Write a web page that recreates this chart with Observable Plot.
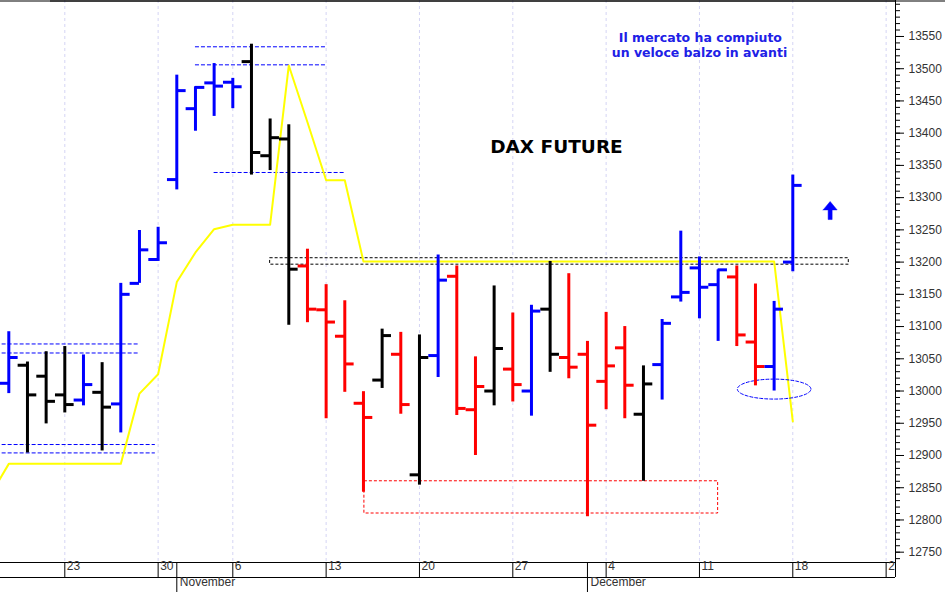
<!DOCTYPE html>
<html><head><meta charset="utf-8">
<script src="https://cdn.jsdelivr.net/npm/d3@7"></script>
<script src="https://cdn.jsdelivr.net/npm/@observablehq/plot@0.6"></script>
<style>body{margin:0;background:#fff}svg{display:block}</style>
</head><body>
<script>
// ---- data (trading-day index i = 0 is 2017-10-18) ----
const dates = ["2017-10-18","2017-10-19","2017-10-20","2017-10-23","2017-10-24","2017-10-25","2017-10-26","2017-10-27","2017-10-30",
  "2017-11-01","2017-11-02","2017-11-03","2017-11-06","2017-11-07","2017-11-08","2017-11-09","2017-11-10",
  "2017-11-13","2017-11-14","2017-11-15","2017-11-16","2017-11-17","2017-11-20","2017-11-21","2017-11-22","2017-11-23","2017-11-24",
  "2017-11-27","2017-11-28","2017-11-29","2017-11-30","2017-12-01","2017-12-04","2017-12-05","2017-12-06","2017-12-07","2017-12-08",
  "2017-12-11","2017-12-12","2017-12-13","2017-12-14","2017-12-15","2017-12-18"];
const open  = [13012,13040,13023,12994,12986,12998,12980,13167,13204,13328,13438,13478,13479,13511,13365,13391,13194,13126,13085,12981,13017,13057,12870,13055,13178,12971,13000,13034,13000,13127,13052,13057,13015,13067,12964,13041,13146,13191,13165,13177,13076,13038,13200];
const high  = [13092,13045,13061,13069,13056,13044,13167,13249,13254,13490,13472,13508,13485,13538,13422,13413,13220,13165,13140,12999,13096,13091,13087,13211,13194,13053,13163,13121,13133,13201,13182,13077,13122,13100,13039,13111,13248,13208,13188,13194,13166,13139,13335];
const low   = [12996,12904,12949,12966,12977,12907,12935,13167,13201,13312,13403,13426,13438,13335,13342,13102,13106,12957,12998,12843,13004,12964,12854,13021,12962,12900,12977,12983,12961,13029,13019,12805,12971,12957,12860,12986,13138,13112,13077,13069,13008,13000,13185];
const close = [13052,12994,12984,12979,13010,12975,13150,13219,13230,13466,13471,13473,13472,13370,13393,13189,13127,13107,13042,12959,13086,12979,13052,13172,12973,13007,13066,13010,13124,13057,13037,12947,13039,13009,13011,13105,13153,13161,13188,13087,13038,13127,13319];
const barColor = ["blue","black","black","black","blue","black","blue","blue","blue","blue","blue","blue","blue","black","black","black","red",
  "red","red","red","black","red","black","blue","red","red","black","red","blue","black","red","red","red","red","black","blue","blue","blue","blue","red","red","blue","blue"];
// yellow line, day index -1 .. 42
const trendStart = -1;
const trend = [12838,12887,12887,12887,12887,12887,12887,12887,12996,13026,13169,13215,13251,13258,13258,13258,13505,13417,13327,13327,
  13201,13201,13201,13201,13201,13201,13201,13201,13201,13201,13201,13201,13201,13201,13201,13201,13201,13201,13201,13201,13201,13201,13201,12953];

// axis ticks
const weekTickIdx = [3,8,12,17,22,27,32,37,42,47];
const weekTickLabels = ["23","30","6","13","20","27","4","11","18","2"];
const monthTickIdx = [9,31];
const monthTickLabels = ["November","December"];
const yTicks = [12750,12800,12850,12900,12950,13000,13050,13100,13150,13200,13250,13300,13350,13400,13450,13500,13550];
const yTickLabels = yTicks.map(String);
const yMinorTicks = d3.range(12740, 13601, 10);

// annotations (data values)
const levelY     = [13073,13059,12917,12904,13534,13506,13339];
const levelStart = [-1,-1,-1,-1,10,10,11];
const levelEnd   = [7,7,7.85,7.85,17,17,18];
const boxBlack = {x1: 14, x2: 45, y1: 13196, y2: 13206};
const boxRed   = {x1: 19.05, x2: 38, y1: 12810, y2: 12860};
const ellipseSpec = {cx: 41, cy: 13003, rx: 1.97, ry: 15.5};
const arrowSpec = {x: 44, tip: 13294, base: 13281, tail: 13266};
const titleText = "DAX FUTURE";
const titlePos = {x: 29.34, y: 13378};
const noteLines = ["Il mercato ha compiuto", "un veloce balzo in avanti"];
const notePos = [{x: 37.05, y: 13548}, {x: 37.0, y: 13525}];

// ---- build ----
const colorHex = {blue: "#0000ff", black: "#000000", red: "#ff0000"};
const bars = dates.map((d, k) => ({i: k, o: open[k], h: high[k], l: low[k], c: close[k], col: colorHex[barColor[k]]}));
const trendData = trend.map((v, k) => ({i: trendStart + k, v}));
const levels = levelY.map((y, k) => ({y, x1: levelStart[k], x2: levelEnd[k]}));
const ellipsePts = d3.range(0, 361, 4).map(a => ({
  x: ellipseSpec.cx + ellipseSpec.rx * Math.cos(a * Math.PI / 180),
  y: ellipseSpec.cy + ellipseSpec.ry * Math.sin(a * Math.PI / 180)}));
const hh = 0.375, sh = 0.107;
const arrowPts = [
  [arrowSpec.x - hh, arrowSpec.base],[arrowSpec.x, arrowSpec.tip],[arrowSpec.x + hh, arrowSpec.base],
  [arrowSpec.x + sh, arrowSpec.base],[arrowSpec.x + sh, arrowSpec.tail],[arrowSpec.x - sh, arrowSpec.tail],
  [arrowSpec.x - sh, arrowSpec.base],[arrowSpec.x - hh, arrowSpec.base]].map(([x, y]) => ({x, y}));
const weekLab = weekTickIdx.map((i, k) => ({i, t: weekTickLabels[k]}));
const monthLab = monthTickIdx.map((i, k) => ({i, t: monthTickLabels[k]}));
const yLabelMap = new Map(yTicks.map((v, k) => [v, yTickLabels[k]]));

const xDomain = [-0.4446, 47.502];
const yDomain = [12734, 13605.8];
const tickLen = 0.5;

const chart = Plot.plot({
  width: 945, height: 592,
  marginLeft: 0, marginRight: 50, marginTop: 0, marginBottom: 30,
  x: {domain: xDomain, axis: null},
  y: {domain: yDomain, axis: null, label: null},
  color: {type: "identity"},
  style: {fontFamily: "'Liberation Sans', Arial, sans-serif", fontSize: "12px", background: "#fff", overflow: "visible"},
  marks: [
    Plot.ruleX(weekTickIdx, {stroke: "#d4d4f4", strokeDasharray: "3,3", strokeWidth: 1}),
    Plot.ruleY(levels, {y: "y", x1: "x1", x2: "x2", stroke: "#0000ff", strokeDasharray: "4,2", clip: true}),
    Plot.rect([boxBlack], {x1: "x1", x2: "x2", y1: "y1", y2: "y2", fill: "none", stroke: "#000", strokeDasharray: "3,2"}),
    Plot.rect([boxRed], {x1: "x1", x2: "x2", y1: "y1", y2: "y2", fill: "none", stroke: "#ff0000", strokeDasharray: "3,2"}),
    Plot.line(trendData, {x: "i", y: "v", stroke: "#ffff00", strokeWidth: 2, clip: true}),
    Plot.line(ellipsePts, {x: "x", y: "y", stroke: "#0000ff", strokeDasharray: "3,2", strokeWidth: 1}),
    Plot.ruleX(bars, {x: "i", y1: "l", y2: "h", stroke: "col", strokeWidth: 3}),
    Plot.ruleY(bars, {y: "o", x1: d => d.i - tickLen, x2: "i", stroke: "col", strokeWidth: 3}),
    Plot.ruleY(bars, {y: "c", x1: "i", x2: d => d.i + tickLen, stroke: "col", strokeWidth: 3}),
    Plot.line(arrowPts, {x: "x", y: "y", fill: "#0000ff", stroke: "#0000ff", strokeWidth: 0.5}),
    Plot.text([{...titlePos, t: titleText}], {x: "x", y: "y", text: "t", fontFamily: "'DejaVu Sans', sans-serif", fontWeight: "bold", fontSize: 18.5, fill: "#000"}),
    Plot.text(noteLines.map((t, k) => ({...notePos[k], t})), {x: "x", y: "y", text: "t", fontFamily: "'DejaVu Sans', sans-serif", fontWeight: "bold", fontSize: 12.5, fill: "#2020e6"}),
    // frame lines
    Plot.ruleY([yDomain[1]], {dy: 0.5, stroke: "#000"}),
    Plot.ruleY([yDomain[1]], {dy: 0.5, dx: 50, stroke: "#000"}),
    Plot.ruleY([yDomain[0]], {stroke: "#000"}),
    Plot.ruleY([yDomain[0]], {dy: 15, stroke: "#000"}),
    Plot.ruleX([xDomain[1]], {stroke: "#000"}),
    Plot.ruleX([xDomain[1]], {dy: 15, stroke: "#000"}),
    // axes
    Plot.axisY(yMinorTicks, {anchor: "right", tickSize: 4, tickFormat: () => "", label: null}),
    Plot.axisY(yTicks, {anchor: "right", tickSize: 8, tickPadding: 5, tickFormat: d => yLabelMap.get(d), label: null, fill: "#333", fontSize: 12}),
    Plot.axisX(weekTickIdx, {anchor: "bottom", tickSize: 15, tickFormat: () => "", label: null}),
    Plot.axisX(monthTickIdx, {anchor: "bottom", tickSize: 30, tickFormat: () => "", label: null}),
    Plot.text(weekLab, {x: "i", text: "t", frameAnchor: "bottom", dy: 7.5, dx: 2, textAnchor: "start", fill: "#333", fontSize: 12}),
    Plot.text(monthLab, {x: "i", text: "t", frameAnchor: "bottom", dy: 23, dx: 3, textAnchor: "start", fill: "#333", fontSize: 12})
  ]
});
document.body.appendChild(chart);
</script>
</body></html>
